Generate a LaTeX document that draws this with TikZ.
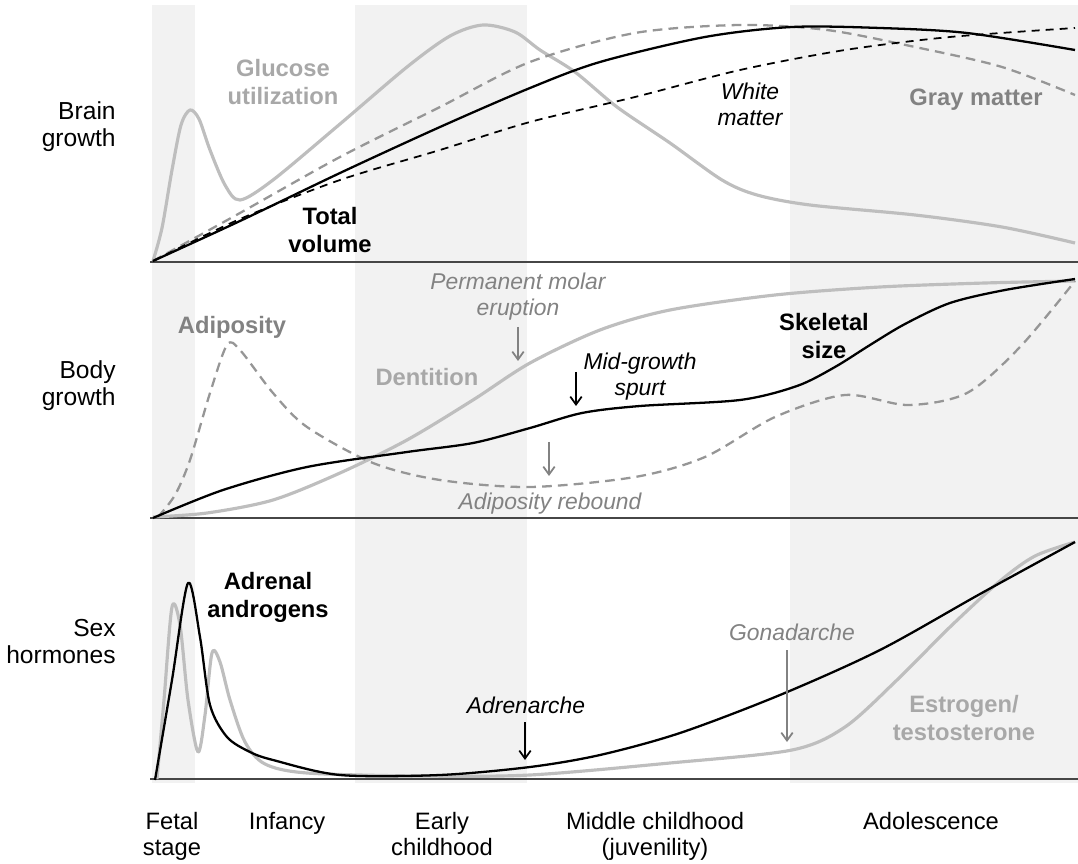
\documentclass[tikz,border=0pt]{standalone}
\usepackage{fontspec}
\setmainfont{Liberation Sans}
\usetikzlibrary{arrows.meta}
\definecolor{bandgray}{RGB}{242,242,242}
\definecolor{curvelight}{RGB}{190,190,190}
\definecolor{curvemid}{RGB}{150,150,150}
\definecolor{textlight}{RGB}{168,168,168}
\definecolor{textmid}{RGB}{130,130,130}
\definecolor{axisdark}{RGB}{70,70,70}

\begin{document}
\begin{tikzpicture}[x=0.02cm, y=-0.02cm, line join=round,
    rowtext/.style={font=\fontsize{14}{15.3}\selectfont, align=right, anchor=north east, inner sep=0pt},
    stagetext/.style={font=\fontsize{13.5}{14.8}\selectfont, align=center, anchor=north, inner sep=0pt},
    boldtext/.style={font=\bfseries\fontsize{13.5}{15.8}\selectfont, align=center, anchor=north, inner sep=0pt},
    notetext/.style={font=\itshape\fontsize{13}{14.6}\selectfont, align=center, anchor=north, inner sep=0pt},
    axisline/.style={axisdark, line width=1.4pt},
    lightcurve/.style={curvelight, line width=1.8pt},
    blackcurve/.style={black, line width=1.3pt},
    graydash/.style={curvemid, line width=1.3pt, dash pattern=on 5.5pt off 3.5pt},
    blackdash/.style={black, line width=1pt, dash pattern=on 4.5pt off 3.5pt},
    notearrow/.style={-{Straight Barb[length=4.5pt,width=6.5pt]}, line width=1pt}]
    \useasboundingbox (0,0) rectangle (1078,864);

    % Bandas de etapas
    \foreach \xa/\xb in {152/195, 355/527, 790/1078} {
        \fill[bandgray] (\xa,5) rectangle (\xb,783);
    }

    % Ejes de los paneles
    \foreach \y in {262, 518, 779} {
        \draw[axisline] (150,\y) -- (1078,\y);
    }

    % Crecimiento cerebral
    \draw[lightcurve] plot[smooth] coordinates {(153,261) (162,228) (172,170) (181,125) (190,110) (199,119) (210,150) (225,185) (240,200) (273,180) (340,124) (407,67) (450,36) (483,25) (515,32) (540,50) (575,72) (617,107) (670,143) (722,180) (757,195) (810,205) (915,215) (1002,227) (1075,243)};
    \draw[graydash] plot[smooth] coordinates {(153,261) (240,213) (340,157) (440,107) (530,62) (635,33) (740,25) (827,30) (915,47) (1002,67) (1075,95)};
    \draw[blackdash] plot[smooth] coordinates {(153,261) (240,219) (340,180) (440,150) (530,122) (635,97) (740,70) (845,50) (950,37) (1075,28)};
    \draw[blackcurve] plot[smooth] coordinates {(153,261) (240,221) (340,173) (440,127) (530,88) (600,62) (705,37) (792,27) (880,28) (967,33) (1075,50)};

    % Crecimiento corporal
    \draw[lightcurve] plot[smooth] coordinates {(153,517) (207,513) (273,500) (340,473) (407,440) (473,400) (530,363) (600,330) (670,310) (775,295) (880,287) (985,283) (1075,281)};
    \draw[graydash] plot[smooth] coordinates {(158,517) (175,495) (190,460) (210,393) (227,345) (240,350) (273,393) (307,427) (373,463) (440,480) (530,487) (635,477) (705,457) (775,417) (845,395) (908,405) (967,393) (1020,347) (1075,281)};
    \draw[blackcurve] plot[smooth] coordinates {(153,518) (223,490) (307,467) (407,452) (473,443) (530,428) (582,413) (640,406) (740,400) (797,386) (835,367) (870,345) (905,324) (950,303) (1005,290) (1075,279)};

    % Hormonas sexuales
    \draw[lightcurve] plot[smooth] coordinates {(157,779) (164,700) (172,607) (180,625) (188,700) (198,752) (205,715) (212,653) (220,662) (230,700) (245,742) (265,764) (307,773) (420,776) (530,775) (670,763) (792,750) (845,727) (897,680) (950,627) (1000,581) (1035,556) (1075,542)};
    \draw[blackcurve] plot[smooth] coordinates {(155,780) (172,680) (188,583) (200,637) (210,705) (227,737) (250,752) (273,760) (340,775) (440,775) (530,767) (600,755) (680,733) (780,695) (880,650) (980,594) (1075,542)};

    % Etiquetas de filas
    \node[rowtext] (brain) at (116,101) {Brain\\growth};
    \node[rowtext] (body) at (116,360) {Body\\growth};
    \node[rowtext] (hormones) at (116,619) {Sex\\hormones};

    % Etiquetas de curvas
    \node[boldtext, textlight] (glucose) at (283,59) {Glucose\\utilization};
    \node[boldtext] (totalvol) at (330,207) {Total\\volume};
    \node[notetext] (white) at (750,83) {White\\matter};
    \node[boldtext, textmid] (gray) at (976,89) {Gray matter};
    \node[boldtext, textmid] (adiposity) at (232,316) {Adiposity};
    \node[boldtext, textlight] (dentition) at (427,368) {Dentition};
    \node[boldtext] (skeletal) at (824,313) {Skeletal\\size};
    \node[boldtext] (adrenal) at (268,572) {Adrenal\\androgens};
    \node[boldtext, textlight] (estrogen) at (964,695) {Estrogen/\\testosterone};

    % Anotaciones con flecha
    \node[notetext, textmid] (molar) at (518,273) {Permanent molar\\eruption};
    \node[notetext] (midspurt) at (640,353) {Mid-growth\\spurt};
    \node[notetext, textmid] (rebound) at (550,493) {Adiposity rebound};
    \node[notetext] (adrenarche) at (526,697) {Adrenarche};
    \node[notetext, textmid] (gonadarche) at (792,624) {Gonadarche};

    \coordinate (molarA) at (518,327);   \coordinate (molarB) at (518,361);
    \coordinate (spurtA) at (576,372);   \coordinate (spurtB) at (576,406);
    \coordinate (reboundA) at (549,442); \coordinate (reboundB) at (549,476);
    \coordinate (adrenA) at (525,722);   \coordinate (adrenB) at (525,760);
    \coordinate (gonadA) at (787,650);   \coordinate (gonadB) at (787,742);
    \draw[notearrow, textmid] (molarA) -- (molarB);
    \draw[notearrow] (spurtA) -- (spurtB);
    \draw[notearrow, textmid] (reboundA) -- (reboundB);
    \draw[notearrow] (adrenA) -- (adrenB);
    \draw[notearrow, textmid] (gonadA) -- (gonadB);

    % Etapas
    \node[stagetext] (fetal) at (172,812) {Fetal\\stage};
    \node[stagetext] (infancy) at (287,812) {Infancy};
    \node[stagetext] (early) at (442,812) {Early\\childhood};
    \node[stagetext] (middle) at (655,812) {Middle childhood\\(juvenility)};
    \node[stagetext] (adolescence) at (931,812) {Adolescence};
\end{tikzpicture}
\end{document}
